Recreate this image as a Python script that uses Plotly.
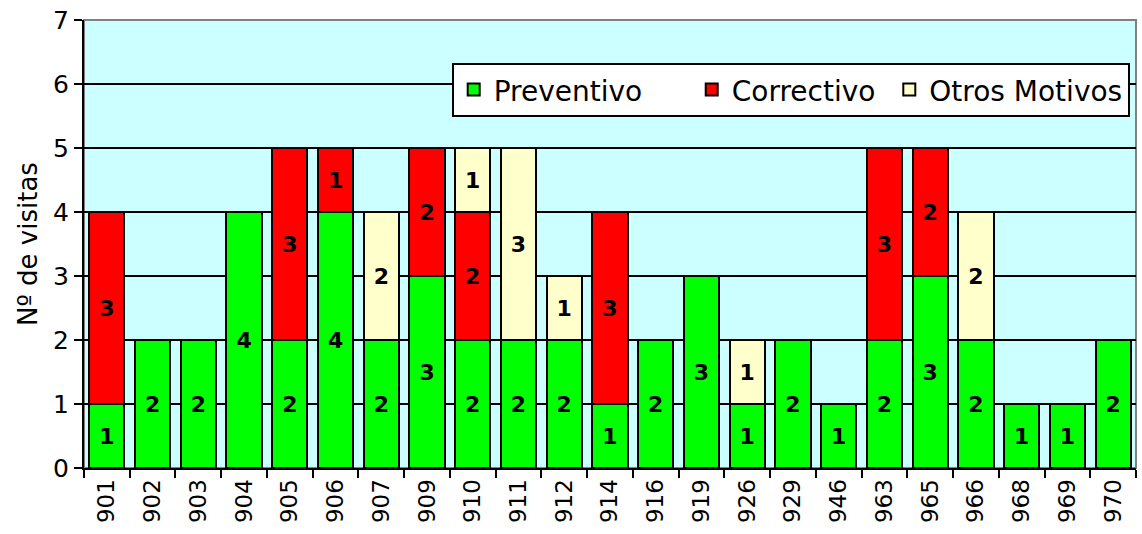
import plotly.graph_objects as go

# Data
vehiculos = ["901", "902", "903", "904", "905", "906", "907", "909", "910", "911", "912", "914",
             "916", "919", "926", "929", "946", "963", "965", "966", "968", "969", "970"]
preventivo = [1, 2, 2, 4, 2, 4, 2, 3, 2, 2, 2, 1, 2, 3, 1, 2, 1, 2, 3, 2, 1, 1, 2]
correctivo = [3, 0, 0, 0, 3, 1, 0, 2, 2, 0, 0, 3, 0, 0, 0, 0, 0, 3, 2, 0, 0, 0, 0]
otros = [0, 0, 0, 0, 0, 0, 2, 0, 1, 3, 1, 0, 0, 0, 1, 0, 0, 0, 0, 2, 0, 0, 0]

FONT = "DejaVu Sans"
NBSP = "\u00a0"

def labels(vals):
    return [str(v) if v else "" for v in vals]

fig = go.Figure()
for name, pad, vals, color in [("Preventivo", 5, preventivo, "#00FF00"),
                               ("Correctivo", 1, correctivo, "#FF0000"),
                               ("Otros Motivos", 0, otros, "#FFFFCC")]:
    fig.add_trace(go.Bar(
        x=vehiculos, y=vals, name=name + NBSP * pad,
        marker=dict(color=color, line=dict(color="black", width=2)),
        text=labels(vals), textposition="inside", insidetextanchor="middle",
        textangle=0, constraintext="none",
        textfont=dict(family=FONT, size=22, color="black", weight="bold"),
    ))

fig.update_layout(
    barmode="stack",
    bargap=0.23,
    width=1142, height=534,
    margin=dict(l=84, r=6, t=20, b=66),
    paper_bgcolor="white",
    plot_bgcolor="#CCFFFF",
    font=dict(family=FONT, size=24, color="black"),
    uniformtext=dict(minsize=22, mode="show"),
    showlegend=True,
    legend=dict(
        orientation="h", x=0.994, xanchor="right", y=0.844, yanchor="middle",
        bgcolor="white", bordercolor="black", borderwidth=2,
        font=dict(family=FONT, size=28, color="black"),
        traceorder="normal", itemwidth=30,
    ),
    xaxis=dict(
        type="category", tickson="boundaries", ticks="outside", ticklen=8,
        tickwidth=2, tickcolor="black", tickangle=-90,
        showline=True, linecolor="black", linewidth=2,
        tickfont=dict(family=FONT, size=23),
        showgrid=False, automargin=False,
    ),
    yaxis=dict(
        range=[0, 7], dtick=1, ticks="outside", ticklen=8, tickwidth=2, tickcolor="black",
        showline=True, linecolor="black", linewidth=2,
        gridcolor="black", gridwidth=2,
        tickfont=dict(family=FONT, size=25),
        title=dict(text="Nº de visitas", font=dict(family=FONT, size=26), standoff=8),
        zeroline=False, automargin=False,
    ),
)

# gray plot-area border on top and right
fig.add_shape(type="rect", xref="paper", yref="paper", x0=0, y0=0, x1=1, y1=1,
              line=dict(color="#808080", width=2), layer="below")

# drop the default 8px body margin so the figure fills the window exactly
fig.write_html("out.html", config=dict(displayModeBar=False),
               post_script="document.body.style.margin='0';")
